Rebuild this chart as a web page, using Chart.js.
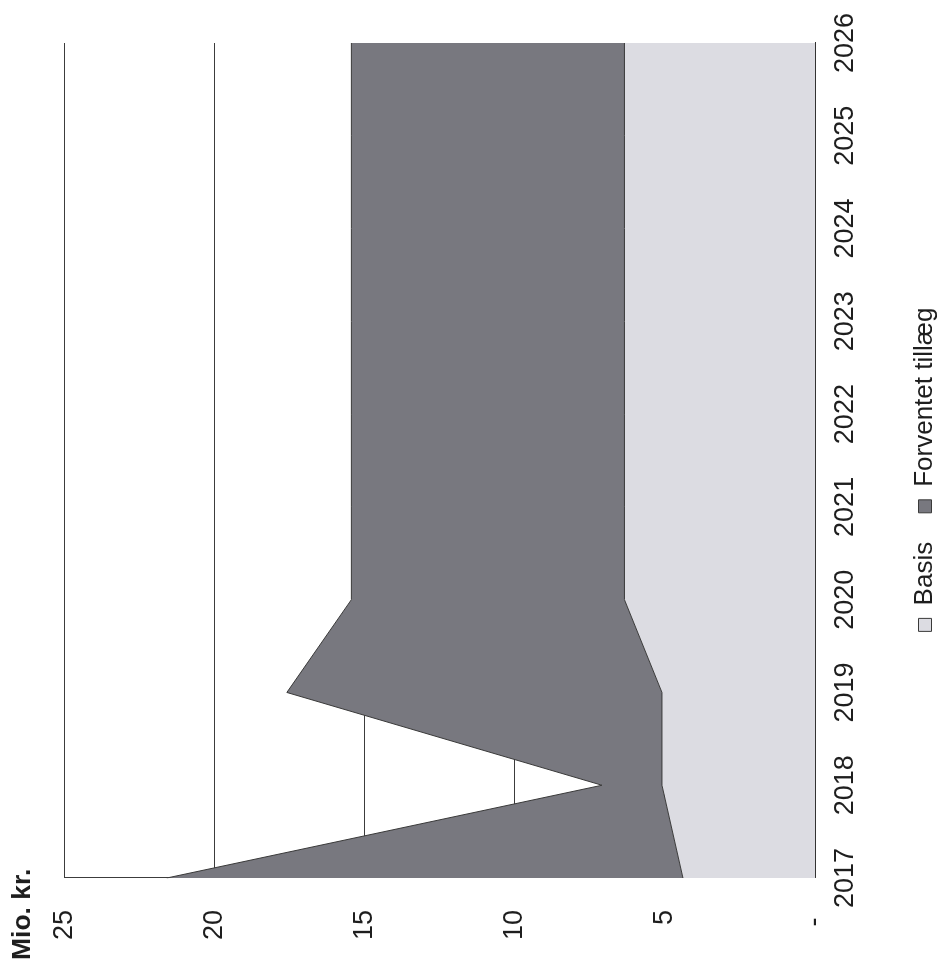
<!DOCTYPE html>
<html>
<head>
<meta charset="utf-8">
<script src="https://cdn.jsdelivr.net/npm/chart.js@4.4.1/dist/chart.umd.min.js"></script>
<style>
html, body { margin: 0; padding: 0; background: #ffffff; overflow: hidden; width: 943px; height: 967px; }
#wrap { position: absolute; left: 0; top: 0; width: 967px; height: 943px;
        transform-origin: 0 0; transform: translate(0, 967px) rotate(-90deg); background: #ffffff; }
</style>
</head>
<body>
<div id="wrap"><canvas id="c" width="967" height="943"></canvas></div>
<script>
// ---- data ----
const years = ['2017', '2018', '2019', '2020', '2021', '2022', '2023', '2024', '2025', '2026'];
const basis = [4.4, 5.1, 5.1, 6.35, 6.35, 6.35, 6.35, 6.35, 6.35, 6.35];
const forventetTillaeg = [17.2, 2.0, 12.5, 9.1, 9.1, 9.1, 9.1, 9.1, 9.1, 9.1];
const valueTicks = [0, 5, 10, 15, 20, 25];
const valueTickLabels = ['- ', '5', '10', '15', '20', '25'];
const seriesNames = ['Basis', 'Forventet tillæg'];
const unitLabel = 'Mio. kr.';

Chart.defaults.font.family = '"Liberation Sans", Arial, sans-serif';
Chart.defaults.color = '#1e1e1e';

const nudge = {
  id: 'nudge',
  afterLayout(chart) {
    const lg = chart.legend;
    if (lg) { lg.left += 14; lg.right += 14; lg.top += 5; lg.bottom += 5; }
    const t = chart.titleBlock;
    if (t) { t.left += 7; t.right += 7; }
  }
};

new Chart(document.getElementById('c'), {
  type: 'line',
  data: {
    labels: years,
    datasets: [
      {
        label: seriesNames[0],
        data: basis,
        fill: 'origin',
        backgroundColor: '#dcdce2',
        borderColor: '#3a3a3a',
        borderWidth: 1,
        pointRadius: 0,
        tension: 0
      },
      {
        label: seriesNames[1],
        data: forventetTillaeg,
        fill: '-1',
        backgroundColor: '#78787f',
        borderColor: '#3a3a3a',
        borderWidth: 1,
        pointRadius: 0,
        tension: 0
      }
    ]
  },
  plugins: [nudge],
  options: {
    responsive: false,
    animation: false,
    events: [],
    layout: { padding: 0 },
    plugins: {
      tooltip: { enabled: false },
      title: {
        display: true,
        text: unitLabel,
        align: 'start',
        color: '#1e1e1e',
        font: { size: 26.5, weight: 'bold' },
        padding: { top: 7, bottom: 26 }
      },
      legend: {
        display: true,
        position: 'bottom',
        labels: {
          color: '#1e1e1e',
          font: { size: 26 },
          boxWidth: 13,
          boxHeight: 13,
          padding: 29
        }
      }
    },
    scales: {
      x: {
        type: 'category',
        offset: false,
        z: 1,
        grid: { display: false, drawTicks: false },
        border: { display: true, color: '#333333', width: 1 },
        ticks: { font: { size: 27 }, color: '#1e1e1e', padding: 14, maxRotation: 0, minRotation: 0, autoSkip: false },
        afterFit(scale) { scale.height = 63; scale.paddingLeft = 0; scale.paddingRight = 43; }
      },
      y: {
        stacked: true,
        min: 0,
        max: 25,
        grid: { color: '#3c3c3c', lineWidth: 1, drawTicks: false },
        border: { display: true, color: '#3c3c3c', width: 1 },
        afterBuildTicks(scale) { scale.ticks = valueTicks.map(v => ({ value: v })); },
        ticks: {
          font: { size: 27 },
          color: '#1e1e1e',
          padding: 32,
          callback(value) {
            const i = valueTicks.indexOf(value);
            return i >= 0 ? valueTickLabels[i] : '';
          }
        },
        afterFit(scale) { scale.width = 89; }
      }
    }
  }
});
</script>
</body>
</html>
